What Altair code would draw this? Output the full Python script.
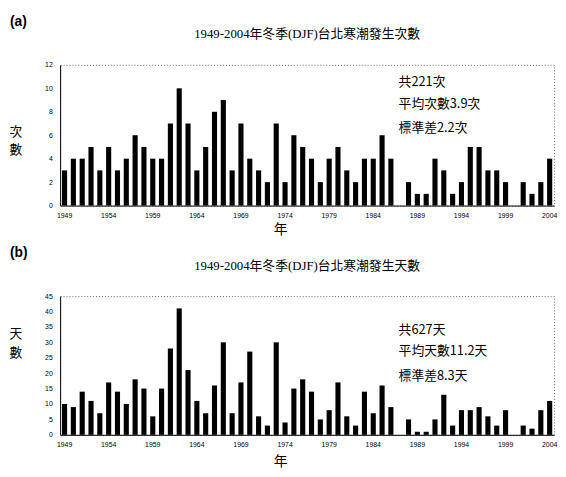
import altair as alt
import pandas as pd

years = list(range(1949, 2005))
tick_years = [1949, 1954, 1959, 1964, 1969, 1974, 1979, 1984, 1989, 1994, 1999, 2004]

counts = [3, 4, 4, 5, 3, 5, 3, 4, 6, 5, 4, 4, 7, 10, 7, 3, 5, 8, 9, 3, 7, 4, 3, 2, 7, 2, 6, 5,
          4, 2, 4, 5, 3, 2, 4, 4, 6, 4, 0, 2, 1, 1, 4, 3, 1, 2, 5, 5, 3, 3, 2, 0, 2, 1, 2, 4]
days = [10, 9, 14, 11, 7, 17, 14, 10, 18, 15, 6, 15, 28, 41, 21, 11, 7, 16, 30, 7, 17, 27, 6, 3, 30, 4, 15, 18,
        14, 5, 8, 17, 6, 3, 14, 7, 16, 9, 0, 5, 1, 1, 5, 13, 3, 8, 8, 9, 6, 3, 8, 0, 3, 2, 8, 11]

title_a = "1949-2004年冬季(DJF)台北寒潮發生次數"
title_b = "1949-2004年冬季(DJF)台北寒潮發生天數"
ylab_a = "次\n數"
ylab_b = "天\n數"
stats_a = ["共221次", "平均次數3.9次", "標準差2.2次"]
stats_b = ["共627天", "平均天數11.2天", "標準差8.3天"]

CJK = "Noto Sans CJK TC"
SERIF = "Liberation Serif, Noto Sans CJK TC"
W = 502


def txt(s, x, y, size, font=CJK, weight="normal", align="center", line_height=None):
    kw = {}
    if line_height is not None:
        kw = {"lineBreak": "\n", "lineHeight": line_height}
    return alt.Chart(pd.DataFrame({"t": [s]})).mark_text(
        font=font, fontSize=size, fontWeight=weight, align=align,
        baseline="middle", color="#000", **kw
    ).encode(x=alt.value(x), y=alt.value(y), text="t:N")


def panel(values, ymax, ystep, tag, title, ylab, stats, stat_y, ylab_y, xlab_y, height):
    df = pd.DataFrame({"year": years, "v": values})
    bars = alt.Chart(df).mark_bar(color="#000").encode(
        x=alt.X("year:O",
                scale=alt.Scale(paddingInner=0.42, paddingOuter=0.21),
                axis=alt.Axis(values=tick_years, labelAngle=0, ticks=False,
                              labelPadding=6, labelFontSize=7, labelFont="Liberation Sans",
                              labelColor="#000", domainColor="#000", title=None)),
        y=alt.Y("v:Q",
                scale=alt.Scale(domain=[0, ymax], nice=False),
                axis=alt.Axis(values=list(range(0, ymax + 1, ystep)), ticks=False, grid=False,
                              labelPadding=8, labelFontSize=7, labelFont="Liberation Sans",
                              labelColor="#000", domainColor="#000", title=None)),
    )
    layers = [bars,
              txt(tag, -51, -44, 14, font="Liberation Sans", weight="bold", align="left"),
              txt(title, W / 2, -31, 13, font=SERIF),
              txt(ylab, -45, ylab_y, 13, line_height=19),
              txt("年", 224, xlab_y, 14)]
    for s, yy in zip(stats, stat_y):
        layers.append(txt(s, 344, yy, 13, align="left"))
    return alt.layer(*layers).properties(width=W, height=height)


pa = panel(counts, 12, 2, "(a)", title_a, ylab_a, stats_a, [17, 40, 64], 68, 168, 143)
pb = panel(days, 45, 5, "(b)", title_b, ylab_b, stats_b, [35, 56, 81], 39, 169, 141)

chart = alt.vconcat(pa, pb, spacing=92, bounds="flush").properties(
    padding={"left": 0, "top": 2, "right": 0, "bottom": 0}
).configure_view(stroke="#666", strokeDash=[1, 2], strokeWidth=1)

chart.save("out.html", embed_options={"renderer": "svg", "actions": False})
